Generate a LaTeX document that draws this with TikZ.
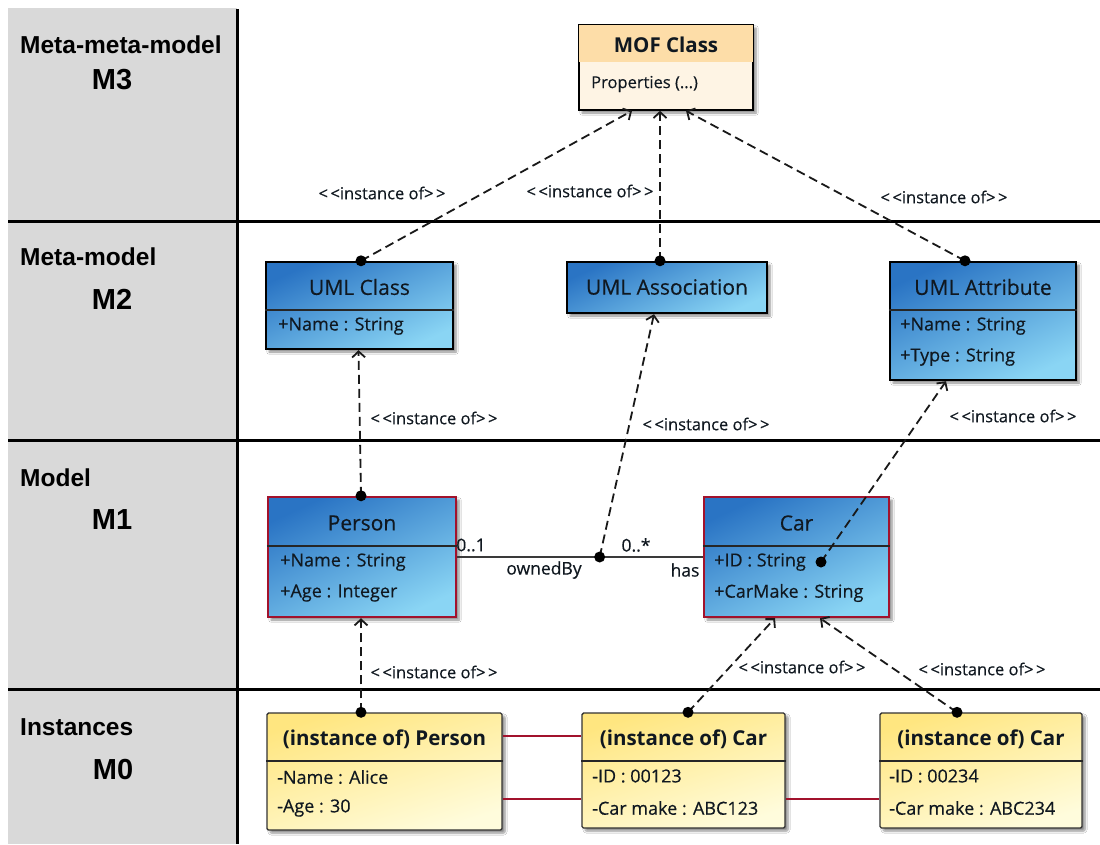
\documentclass[tikz,border=0pt]{standalone}
\usepackage{fontspec}
\setmainfont{Open Sans}
\newfontfamily\medfont{Open Sans}[FakeBold=0.35]
\newfontfamily\lblfont{Liberation Sans}
\usetikzlibrary{arrows.meta,shadows.blur,calc}

\definecolor{band}{HTML}{D9D9D9}
\definecolor{bluedark}{HTML}{2A74C4}
\definecolor{bluemid}{HTML}{3C90DA}
\definecolor{bluelight}{HTML}{8AD5F4}
\definecolor{mofhead}{HTML}{FDDDA8}
\definecolor{mofbody}{HTML}{FEF4E4}
\definecolor{ylwdark}{HTML}{FFE680}
\definecolor{ylwmid}{HTML}{FFF59E}
\definecolor{ylwlight}{HTML}{FFFCDC}
\definecolor{redline}{HTML}{A2122C}
\definecolor{txt}{HTML}{101820}
\definecolor{assoc}{HTML}{3A3A3A}

\tikzset{
  sect/.style={line width=3pt, black},
  level/.style={font=\lblfont\bfseries\fontsize{24.5}{28}\selectfont, anchor=west, inner sep=0pt},
  levelno/.style={font=\lblfont\bfseries\fontsize{29}{32}\selectfont, inner sep=0pt},
  shade/.style={blur shadow={shadow xshift=3pt, shadow yshift=-3pt, shadow blur steps=6, shadow opacity=45}},
  bluebox/.style={shade, draw=black, line width=2.4pt, top color=bluedark, middle color=bluemid,
    bottom color=bluelight, shading angle=25, inner sep=0pt},
  redbox/.style={bluebox, draw=redline},
  ylwbox/.style={shade, draw=black!80, line width=1.4pt, rounded corners=1.5pt, top color=ylwdark,
    middle color=ylwmid, bottom color=ylwlight, shading angle=18, inner sep=0pt},
  mofbox/.style={shade, draw=black, line width=1.6pt, fill=mofbody, inner sep=0pt},
  divider/.style={line width=1.5pt, black!85},
  title/.style={font=\medfont\fontsize{21}{24}\selectfont, text=txt, inner sep=0pt},
  btitle/.style={font=\bfseries\fontsize{20.5}{24}\selectfont, text=txt, inner sep=0pt},
  attr/.style={font=\medfont\fontsize{18}{21}\selectfont, text=txt, anchor=west, inner sep=0pt},
  stereo/.style={font=\medfont\fontsize{16.5}{19}\selectfont, text=txt, inner sep=0pt},
  mult/.style={font=\medfont\fontsize{17.5}{20}\selectfont, text=txt, inner sep=0pt},
  instof/.style={line width=1.8pt, dash pattern=on 9pt off 5pt, black!90,
    -{Straight Barb[length=6pt, width=13pt, line width=1.8pt]}},
  linkline/.style={line width=1.8pt, redline},
  dot/.style={fill=black}
}
\newcommand{\stereotext}{<\kern2.5pt<instance of>\kern2.5pt>}

\begin{document}
\begin{tikzpicture}[x=1pt, y=-1pt]
\useasboundingbox (0,0) rectangle (1100,844);
\fill[white] (0,0) rectangle (1100,844);

% level band on the left
\fill[band] (8,8) rectangle (237,844);
\draw[sect] (8,221) -- (1100,221);
\draw[sect] (8,440) -- (1100,440);
\draw[sect] (8,689) -- (1100,689);
\draw[sect] (237,9) -- (237,844);

\node[level] (l3) at (20,45) {Meta-meta-model};
\node[levelno] (m3) at (112,80) {M3};
\node[level] (l2) at (20,257) {Meta-model};
\node[levelno] (m2) at (112,299) {M2};
\node[level] (l1) at (20,478) {Model};
\node[levelno] (m1) at (112,520) {M1};
\node[level] (l0) at (20,727) {Instances};
\node[levelno] (m0) at (113,770) {M0};

% M3: MOF class
\node[mofbox, minimum width=174pt, minimum height=85pt] (mof) at (666,67.5) {};
\fill[mofhead] ($(mof.north west)+(0.8pt,-0.8pt)$) rectangle ($(mof.east |- 0,62)+(-0.8pt,0)$);
\node[btitle] (mofT) at (666,45) {MOF Class};
\node[attr, font=\medfont\fontsize{16.5}{19}\selectfont] (mofA1) at (591,84) {Properties (...)};

% M2: UML meta-classes
\node[bluebox, minimum width=187pt, minimum height=87pt] (umlclass) at (359.5,305.5) {};
\draw[divider] (umlclass.west |- 0,310) -- (umlclass.east |- 0,310);
\node[title] (umlclassT) at (359.5,287) {UML Class};
\node[attr] (umlclassA1) at (278,326) {+Name : String};

\node[bluebox, minimum width=200pt, minimum height=51pt] (umlassoc) at (667,287.5) {};
\node[title] (umlassocT) at (667,287) {UML Association};

\node[bluebox, minimum width=186pt, minimum height=118pt] (umlattr) at (983,321) {};
\draw[divider] (umlattr.west |- 0,310) -- (umlattr.east |- 0,310);
\node[title] (umlattrT) at (983,287) {UML Attribute};
\node[attr] (umlattrA1) at (900,326) {+Name : String};
\node[attr] (umlattrA2) at (900,357) {+Type : String};

% M1: user model
\node[redbox, minimum width=188pt, minimum height=120pt] (person) at (362,557) {};
\draw[divider] (person.west |- 0,546) -- (person.east |- 0,546);
\node[title] (personT) at (362,523) {Person};
\node[attr] (personA1) at (280,562) {+Name : String};
\node[attr] (personA2) at (280,593) {+Age : Integer};

\node[redbox, minimum width=185pt, minimum height=120pt] (car) at (796.5,557) {};
\draw[divider] (car.west |- 0,546) -- (car.east |- 0,546);
\node[title] (carT) at (796.5,523) {Car};
\node[attr] (carA1) at (714,562) {+ID : String};
\node[attr] (carA2) at (714,593) {+CarMake : String};

% association Person -- Car
\draw[assoc, line width=1.6pt] (person.east) -- (car.west);
\coordinate (assocpt) at ($(person.east)!0.58!(car.west)$);
\node[mult] (mA) at (471,545) {0..1};
\node[mult] (rA) at (544,570) {ownedBy};
\node[mult] (mB) at (636,545) {0..*};
\node[mult] (rB) at (685,570) {has};

% M0: instances
\node[ylwbox, minimum width=235pt, minimum height=117pt] (iperson) at (384.5,771.5) {};
\draw[divider, line width=1.2pt] (iperson.west |- 0,761) -- (iperson.east |- 0,761);
\node[btitle] (ipersonT) at (384.5,739) {(instance of) Person};
\node[attr] (ipersonA1) at (277,777) {-Name : Alice};
\node[attr] (ipersonA2) at (277,808) {-Age : 30};

\node[ylwbox, minimum width=203pt, minimum height=115pt] (icar1) at (683.5,770.5) {};
\draw[divider, line width=1.2pt] (icar1.west |- 0,761) -- (icar1.east |- 0,761);
\node[btitle] (icar1T) at (683.5,739) {(instance of) Car};
\node[attr] (icar1A1) at (592,776) {-ID : 00123};
\node[attr] (icar1A2) at (592,808) {-Car make : ABC123};

\node[ylwbox, minimum width=202pt, minimum height=115pt] (icar2) at (981,770.5) {};
\draw[divider, line width=1.2pt] (icar2.west |- 0,761) -- (icar2.east |- 0,761);
\node[btitle] (icar2T) at (981,739) {(instance of) Car};
\node[attr] (icar2A1) at (889,776) {-ID : 00234};
\node[attr] (icar2A2) at (889,808) {-Car make : ABC234};

% links between instances
\draw[linkline] (iperson.east |- 0,736) -- (icar1.west |- 0,736);
\draw[linkline] (iperson.east |- 0,799) -- (icar1.west |- 0,799);
\draw[linkline] (icar1.east |- 0,799) -- (icar2.west |- 0,799);

% <<instance of>> dependencies
\coordinate (carID) at (821,562);
\draw[instof] ([xshift=1.5pt]umlclass.north) -- ([xshift=-34pt]mof.south);
\draw[instof] ([xshift=-7pt]umlassoc.north) -- ([xshift=-6pt]mof.south);
\draw[instof] ([xshift=-18pt]umlattr.north) -- ([xshift=20pt]mof.south);
\draw[instof] ([xshift=-1pt]person.north) -- ([xshift=-1pt]umlclass.south);
\draw[instof] (assocpt) -- ([xshift=-13pt]umlassoc.south);
\draw[instof] (carID) -- ([xshift=-37pt]umlattr.south);
\draw[instof] ([xshift=-23.5pt]iperson.north) -- ([xshift=-1pt]person.south);
\draw[instof] ([xshift=4.5pt]icar1.north) -- ([xshift=-21.5pt]car.south);
\draw[instof] ([xshift=-24pt]icar2.north) -- ([xshift=23.5pt]car.south);

\fill[dot] ([xshift=1.5pt]umlclass.north) circle (5.5pt);
\fill[dot] ([xshift=-7pt]umlassoc.north) circle (5.5pt);
\fill[dot] ([xshift=-18pt]umlattr.north) circle (5.5pt);
\fill[dot] ([xshift=-1pt]person.north) circle (5.5pt);
\fill[dot] (assocpt) circle (5.5pt);
\fill[dot] (carID) circle (5.5pt);
\fill[dot] ([xshift=-23.5pt]iperson.north) circle (5.5pt);
\fill[dot] ([xshift=4.5pt]icar1.north) circle (5.5pt);
\fill[dot] ([xshift=-24pt]icar2.north) circle (5.5pt);

\node[stereo] (s1) at (382,193) {\stereotext};
\node[stereo] (s2) at (590,191) {\stereotext};
\node[stereo] (s3) at (944,197) {\stereotext};
\node[stereo] (s4) at (434,418) {\stereotext};
\node[stereo] (s5) at (706,424) {\stereotext};
\node[stereo] (s6) at (1013,416) {\stereotext};
\node[stereo] (s7) at (434,672) {\stereotext};
\node[stereo] (s8) at (802,667) {\stereotext};
\node[stereo] (s9) at (982,669) {\stereotext};
\end{tikzpicture}
\end{document}
